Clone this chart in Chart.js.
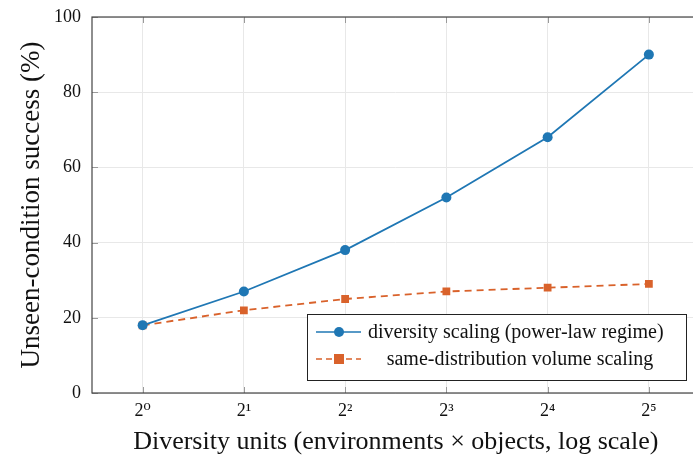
<!DOCTYPE html>
<html>
<head>
<meta charset="utf-8">
<script src="https://cdn.jsdelivr.net/npm/chart.js@4/dist/chart.umd.min.js"></script>
<style>
  html, body { margin: 0; padding: 0; background: #fff; overflow: hidden; }
  #wrap { width: 705px; height: 459px; }
</style>
</head>
<body>
<div id="wrap"><canvas id="scaling-chart"></canvas></div>
<script>
const diversityUnits = ["2\u2070", "2\u00b9", "2\u00b2", "2\u00b3", "2\u2074", "2\u2075"];
const diversityScaling = [18, 27, 38, 52, 68, 90];
const volumeScaling = [18, 22, 25, 27, 28, 29];
const yTicks = [0, 20, 40, 60, 80, 100];

const blue = '#1f77b4';
const orange = '#d9622b';
const serif = "'Liberation Serif', 'DejaVu Serif', serif";

// box, inner tick marks and the legend box
const framePlugin = {
    id: 'frame',
    afterDraw(chart) {
        const ctx = chart.ctx;
        const a = chart.chartArea;
        const xs = chart.scales.x, ys = chart.scales.y;
        ctx.save();
        ctx.strokeStyle = '#9a9a9a';
        ctx.lineWidth = 1;
        ctx.beginPath();
        diversityUnits.forEach((u, i) => {
            const x = Math.round(xs.getPixelForValue(i)) + 0.5;
            ctx.moveTo(x, a.top); ctx.lineTo(x, a.top + 6);
            ctx.moveTo(x, a.bottom); ctx.lineTo(x, a.bottom - 6);
        });
        yTicks.forEach(v => {
            const y = Math.round(ys.getPixelForValue(v)) + 0.5;
            ctx.moveTo(a.left, y); ctx.lineTo(a.left + 6, y);
        });
        ctx.stroke();

        ctx.strokeStyle = '#444';
        ctx.lineWidth = 1.2;
        ctx.strokeRect(a.left, a.top, a.right - a.left + 5, a.bottom - a.top);

        // legend
        const lx = 307, ly = 314, lw = 379, lh = 66;
        ctx.fillStyle = '#fff';
        ctx.fillRect(lx, ly, lw, lh);
        ctx.strokeStyle = '#222';
        ctx.lineWidth = 1;
        ctx.strokeRect(lx + 0.5, ly + 0.5, lw, lh);

        ctx.font = "20px " + serif;
        ctx.textBaseline = 'middle';

        const y1 = 332, y2 = 359;
        ctx.strokeStyle = blue;
        ctx.lineWidth = 1.6;
        ctx.beginPath(); ctx.moveTo(316, y1); ctx.lineTo(361, y1); ctx.stroke();
        ctx.fillStyle = blue;
        ctx.beginPath(); ctx.arc(339, y1, 5, 0, Math.PI * 2); ctx.fill();

        ctx.strokeStyle = orange;
        ctx.setLineDash([6, 4]);
        ctx.beginPath(); ctx.moveTo(316, y2); ctx.lineTo(361, y2); ctx.stroke();
        ctx.setLineDash([]);
        ctx.fillStyle = orange;
        ctx.fillRect(334, y2 - 5, 10, 10);

        ctx.fillStyle = '#111';
        ctx.textAlign = 'left';
        ctx.fillText('diversity scaling (power-law regime)', 368, y1 + 1);
        ctx.textAlign = 'center';
        ctx.fillText('same-distribution volume scaling', 520, y2 + 1);
        ctx.restore();
    }
};

const scalingData = {
    labels: diversityUnits,
    datasets: [{
        label: 'diversity scaling (power-law regime)',
        data: diversityScaling,
        borderColor: blue,
        backgroundColor: blue,
        borderWidth: 1.8,
        pointStyle: 'circle',
        pointRadius: 5,
        pointHoverRadius: 5,
        pointBorderWidth: 0
    }, {
        label: 'same-distribution volume scaling',
        data: volumeScaling,
        borderColor: orange,
        backgroundColor: orange,
        borderWidth: 1.8,
        borderDash: [7, 5],
        pointStyle: 'rect',
        pointRadius: 5.5,
        pointHoverRadius: 5.5,
        pointBorderWidth: 0
    }]
};

const scalingOptions = {
    responsive: true,
    maintainAspectRatio: false,
    animation: false,
    layout: { padding: { top: 17, right: 1, left: 0, bottom: 0 } },
    plugins: {
        legend: { display: false },
        tooltip: { enabled: false }
    },
    scales: {
        x: {
            type: 'category',
            offset: true,
            grid: { color: '#e8e8e8', drawTicks: false, offset: false },
            border: { display: false },
            ticks: { color: '#111', padding: 7, font: { family: serif, size: 18 } },
            title: {
                display: true,
                text: 'Diversity units (environments \u00d7 objects, log scale)',
                color: '#111',
                font: { family: serif, size: 26 },
                padding: { top: 0, bottom: 1 }
            },
            afterFit(scale) {
                scale.height = 66;
                scale.paddingLeft = 0; scale.paddingRight = 0;
            }
        },
        y: {
            min: 0,
            max: 100,
            afterBuildTicks(scale) { scale.ticks = yTicks.map(v => ({ value: v })); },
            grid: { color: '#e8e8e8', drawTicks: false },
            border: { display: false },
            ticks: { color: '#111', padding: 11, font: { family: serif, size: 18 } },
            title: {
                display: true,
                text: 'Unseen-condition success (%)',
                color: '#111',
                font: { family: serif, size: 27 },
                padding: { top: 16, bottom: 0 }
            },
            afterFit(scale) {
                scale.width = 92;
                scale.paddingTop = 0; scale.paddingBottom = 0;
            }
        }
    }
};

const scalingChart = new Chart(document.getElementById('scaling-chart'), {
    type: 'line',
    data: scalingData,
    options: scalingOptions,
    plugins: [framePlugin]
});
</script>
</body>
</html>
